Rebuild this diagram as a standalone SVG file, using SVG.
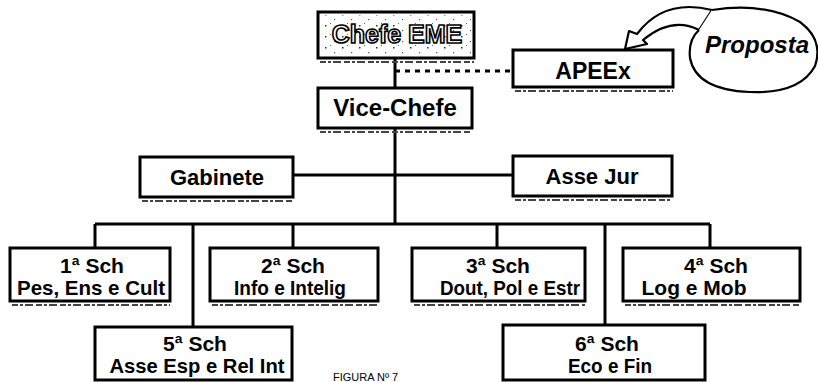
<svg xmlns="http://www.w3.org/2000/svg" width="818" height="382" viewBox="0 0 818 382">
<defs>
<pattern id="speck" width="17" height="11" patternUnits="userSpaceOnUse">
<rect x="2" y="3" width="1.5" height="1.5" fill="#333"/>
<rect x="11" y="8" width="1.2" height="1.2" fill="#555"/>
<rect x="7" y="1" width="1" height="1" fill="#666"/>
</pattern>
</defs>
<style>
.box{fill:#fff;stroke:#000;stroke-width:3}
.shadow{stroke:#444;stroke-width:2;stroke-dasharray:6 2 3 2 8 3}
.t{font-family:"Liberation Sans",Arial,sans-serif;font-weight:bold;font-size:21px;fill:#000;text-anchor:middle}
.ln{stroke:#000;stroke-width:3;fill:none}
</style>
<rect width="818" height="382" fill="#fff"/>
<g id="connectors">
<path class="ln" d="M395 58V88M395 128V224M293 175H513M95 224H710M95 224V248M193 224V327M293 224V248M497 224V248M605 224V325M710 224V248"/>
<path d="M395 71H513" stroke="#000" stroke-width="3" stroke-dasharray="5 5"/>
<path d="M625 49 L629 31 L637 34 Q664 -2 712 10 L699 30 Q672 16 643 40 L647 44 Z" fill="#fff" stroke="#000" stroke-width="2.2" stroke-linejoin="round"/>
</g>
<g id="chefe">
<rect class="box" x="318" y="12" width="156" height="46"/>
<rect x="321" y="15" width="150" height="40" fill="url(#speck)"/>
<line class="shadow" x1="320" y1="62" x2="474" y2="62"/>
<text class="t" x="397" y="43" style="fill:#fff;stroke:#000;stroke-width:1.6;font-size:25px">Chefe EME</text>
</g>
<g id="vice">
<rect class="box" x="318" y="88" width="154" height="40"/>
<line class="shadow" x1="320" y1="132" x2="472" y2="132"/>
<text class="t" x="395" y="116" style="font-size:24px">Vice-Chefe</text>
</g>
<g id="apeex">
<rect class="box" x="513" y="50" width="160" height="37"/>
<line class="shadow" x1="515" y1="91" x2="673" y2="91"/>
<text class="t" x="593" y="79" style="font-size:23px">APEEx</text>
</g>
<g id="proposta">
<path d="M712 10 Q765 2 800 22 Q824 40 815 66 Q800 94 750 92 Q696 90 690 58 Q688 40 699 30" fill="#fff" stroke="#000" stroke-width="2.2"/>
<text class="t" x="757" y="53" style="font-size:24px;font-style:italic">Proposta</text>
</g>
<g id="gabinete">
<rect class="box" x="140" y="157" width="153" height="40"/>
<line class="shadow" x1="142" y1="201" x2="293" y2="201"/>
<text class="t" x="217" y="185" style="font-size:22px">Gabinete</text>
</g>
<g id="assejur">
<rect class="box" x="513" y="156" width="159" height="40"/>
<line class="shadow" x1="515" y1="200" x2="672" y2="200"/>
<text class="t" x="592" y="184" style="font-size:22px">Asse Jur</text>
</g>
<g id="sch1">
<rect class="box" x="10" y="248" width="160" height="53"/>
<line class="shadow" x1="12" y1="305" x2="170" y2="305"/>
<text class="t" x="92" y="273">1ª Sch</text>
<text class="t" x="91" y="295" textLength="148" lengthAdjust="spacingAndGlyphs">Pes, Ens e Cult</text>
</g>
<g id="sch2">
<rect class="box" x="210" y="248" width="168" height="53"/>
<line class="shadow" x1="212" y1="305" x2="378" y2="305"/>
<text class="t" x="293" y="273">2ª Sch</text>
<text class="t" x="290" y="295" textLength="112" lengthAdjust="spacingAndGlyphs">Info e Intelig</text>
</g>
<g id="sch3">
<rect class="box" x="412" y="248" width="173" height="53"/>
<line class="shadow" x1="414" y1="305" x2="585" y2="305"/>
<text class="t" x="498" y="273">3ª Sch</text>
<text class="t" x="510" y="295" textLength="140" lengthAdjust="spacingAndGlyphs">Dout, Pol e Estr</text>
</g>
<g id="sch4">
<rect class="box" x="623" y="248" width="177" height="53"/>
<line class="shadow" x1="625" y1="305" x2="800" y2="305"/>
<text class="t" x="716" y="273">4ª Sch</text>
<text class="t" x="694" y="295">Log e Mob</text>
</g>
<g id="sch5">
<rect class="box" x="95" y="327" width="197" height="53"/>
<text class="t" x="195" y="351">5ª Sch</text>
<text class="t" x="197" y="373" textLength="175" lengthAdjust="spacingAndGlyphs">Asse Esp e Rel Int</text>
</g>
<g id="sch6">
<rect class="box" x="503" y="325" width="202" height="55"/>
<text class="t" x="607" y="351">6ª Sch</text>
<text class="t" x="610" y="373" textLength="84" lengthAdjust="spacingAndGlyphs">Eco e Fin</text>
</g>
<text x="333" y="381" font-family="Liberation Sans,Arial,sans-serif" font-size="11" fill="#000">FIGURA Nº 7</text>
</svg>
